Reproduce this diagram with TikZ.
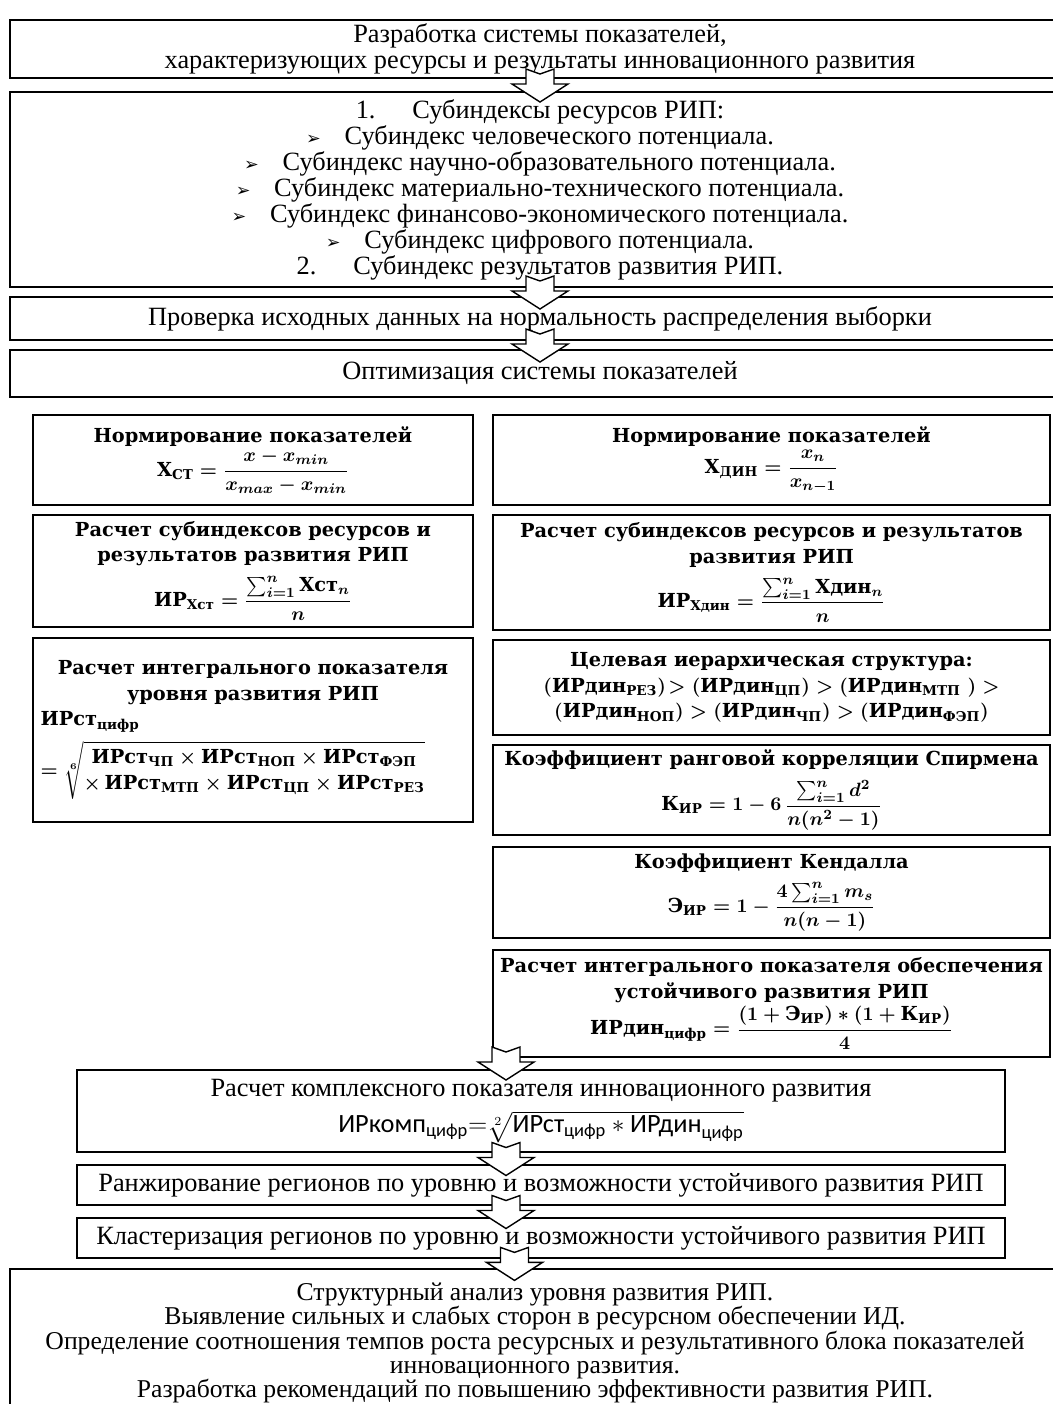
\documentclass[tikz,border=0pt]{standalone}
\usepackage{amsmath}
\usepackage{fontspec}
\setmainfont{Liberation Serif}
\newfontfamily\boldfam{DejaVu Serif}
\newfontfamily\symfam{DejaVu Sans}
\newfontfamily\califam{Carlito}
\usetikzlibrary{positioning,calc}

\newcommand{\tx}[1]{\text{#1}}
\newcommand{\itm}{{\symfam\normalsize ➢}\hspace{0.9em}}

\tikzset{
  darrow/.pic = {\draw[line width=0.8pt, fill=white]
    (-14,-16) -- (0,-11) -- (14,-16) -- (14,-1) -- (28,-1) -- (0,17)
    -- (-28,-1) -- (-14,-1) -- cycle;}
}

\begin{document}
\begin{tikzpicture}[x=0.02cm, y=-0.02cm,
  box/.style = {draw, line width=0.9pt, fill=white, align=center, inner sep=2pt,
                font=\fontsize{15}{14.8}\selectfont},
  fbox/.style = {box, font=\boldfam\bfseries\boldmath\fontsize{11}{14.6}\selectfont}]
\useasboundingbox (0,0) rectangle (1053,1404);

% upper part
\node[box, minimum width=21.2cm, minimum height=1.16cm] (b1) at (540,49)
  {Разработка системы показателей,\\ характеризующих ресурсы и результаты инновационного развития};
\node[box, minimum width=21.2cm, minimum height=3.9cm] (b2) at (540,189.5)
  {1.\hspace{1.4em}Субиндексы ресурсов РИП:\\
   \itm Субиндекс человеческого потенциала.\\
   \itm Субиндекс научно-образовательного потенциала.\\
   \itm Субиндекс материально-технического потенциала.\\
   \itm Субиндекс финансово-экономического потенциала.\\
   \itm Субиндекс цифрового потенциала.\\
   2.\hspace{1.4em}Субиндекс результатов развития РИП.};
\node[box, minimum width=21.2cm, minimum height=0.86cm] (b3) at (540,318.5)
  {Проверка исходных данных на нормальность распределения выборки};
\node[box, minimum width=21.2cm, minimum height=0.94cm] (b4) at (540,373.5)
  {Оптимизация системы показателей};

% left column
\node[fbox, minimum width=8.8cm, minimum height=1.8cm] (l1) at (253,460)
  {Нормирование показателей\\[1pt]
   $\tx{Х}_{\tx{СТ}} = \dfrac{x - x_{min}}{x_{max} - x_{min}}$};
\node[fbox, minimum width=8.8cm, minimum height=2.24cm] (l2) at (253,571)
  {Расчет субиндексов ресурсов и\\ результатов развития РИП\\[5pt]
   $\tx{ИР}_{\tx{Хст}} = \dfrac{\sum_{i=1}^{n} \tx{Хст}_{n}}{n}$};
\node[fbox, minimum width=8.8cm, minimum height=3.68cm] (l3) at (253,730)
  {Расчет интегрального показателя\\ уровня развития РИП\\
   \makebox[8.5cm][l]{$\tx{ИРст}_{\tx{цифр}}$}\\[4pt]
   \makebox[8.5cm][l]{$= \sqrt[6]{\begin{matrix}
      \tx{ИРст}_{\tx{ЧП}} \times \tx{ИРст}_{\tx{НОП}} \times \tx{ИРст}_{\tx{ФЭП}}\\
      \times\, \tx{ИРст}_{\tx{МТП}} \times \tx{ИРст}_{\tx{ЦП}} \times \tx{ИРст}_{\tx{РЕЗ}}
      \end{matrix}}$}};

% right column
\node[fbox, minimum width=11.14cm, minimum height=1.8cm] (r1) at (771.5,460)
  {Нормирование показателей\\[1pt]
   $\tx{Х}_{\tx{ДИН}} = \dfrac{x_{n}}{x_{n-1}}$};
\node[fbox, minimum width=11.14cm, minimum height=2.3cm] (r2) at (771.5,572.5)
  {Расчет субиндексов ресурсов и результатов\\ развития РИП\\[5pt]
   $\tx{ИР}_{\tx{Хдин}} = \dfrac{\sum_{i=1}^{n} \tx{Хдин}_{n}}{n}$};
\node[fbox, minimum width=11.14cm, minimum height=1.9cm] (r3) at (771.5,687.5)
  {Целевая иерархическая структура:\\
   $(\tx{ИРдин}_{\tx{РЕЗ}})\!> (\tx{ИРдин}_{\tx{ЦП}}) > (\tx{ИРдин}_{\tx{МТП}}\ ) >$\\
   $(\tx{ИРдин}_{\tx{НОП}}) > (\tx{ИРдин}_{\tx{ЧП}}) > (\tx{ИРдин}_{\tx{ФЭП}})$};
\node[fbox, minimum width=11.14cm, minimum height=1.8cm] (r4) at (771.5,790)
  {Коэффициент ранговой корреляции Спирмена\\[5pt]
   $\tx{К}_{\tx{ИР}} = 1 - 6\,\dfrac{\sum_{i=1}^{n} d^{2}}{n(n^{2}-1)}$};
\node[fbox, minimum width=11.14cm, minimum height=1.82cm] (r5) at (771.5,892.5)
  {Коэффициент Кендалла\\[5pt]
   $\tx{Э}_{\tx{ИР}} = 1 - \dfrac{4\sum_{i=1}^{n} m_{s}}{n(n-1)}$};
\node[fbox, minimum width=11.14cm, minimum height=2.14cm] (r6) at (771.5,1003.5)
  {Расчет интегрального показателя обеспечения\\ устойчивого развития РИП\\[1pt]
   $\tx{ИРдин}_{\tx{цифр}} = \dfrac{(1+\tx{Э}_{\tx{ИР}}) * (1+\tx{К}_{\tx{ИР}})}{4}$};

% lower part
\node[box, minimum width=18.56cm, minimum height=1.64cm] (c1) at (541,1111)
  {Расчет комплексного показателя инновационного развития\\[4pt]
   {\califam $\tx{ИРкомп}_{\tx{цифр}}{=}\sqrt[2]{\tx{ИРст}_{\tx{цифр}} * \tx{ИРдин}_{\tx{цифр}}}$}};
\node[box, minimum width=18.56cm, minimum height=0.8cm] (c2) at (541,1185)
  {Ранжирование регионов по уровню и возможности устойчивого развития РИП};
\node[box, minimum width=18.56cm, minimum height=0.8cm] (c3) at (541,1238)
  {Кластеризация регионов по уровню и возможности устойчивого развития РИП};
\node[box, minimum width=21.2cm, minimum height=3.04cm, anchor=north] (f) at (540,1268) {};
\node[align=center, font=\fontsize{14.6}{13.9}\selectfont] (ft) at (535,1343)
  {Структурный анализ уровня развития РИП.\\
   Выявление сильных и слабых сторон в ресурсном обеспечении ИД.\\
   Определение соотношения темпов роста ресурсных и результативного блока показателей\\
   инновационного развития.\\
   Разработка рекомендаций по повышению эффективности развития РИП.};

% arrows
\coordinate (a1) at ($(b1.south)!0.5!(b2.north)$);
\coordinate (a2) at ($(b2.south)!0.5!(b3.north)$);
\coordinate (a3) at ($(b3.south)!0.5!(b4.north)$);
\coordinate (a4) at (506,1063);
\coordinate (a5) at ($(c1.south)!0.5!(c2.north)+(-35,0)$);
\coordinate (a6) at ($(c2.south)!0.5!(c3.north)+(-35,0)$);
\coordinate (a7) at ($(c3.south)!0.5!(f.north)+(-26,0)$);
\foreach \a in {a1,a2,a3,a4,a5,a6,a7}
  \pic at (\a) {darrow};
\end{tikzpicture}
\end{document}
